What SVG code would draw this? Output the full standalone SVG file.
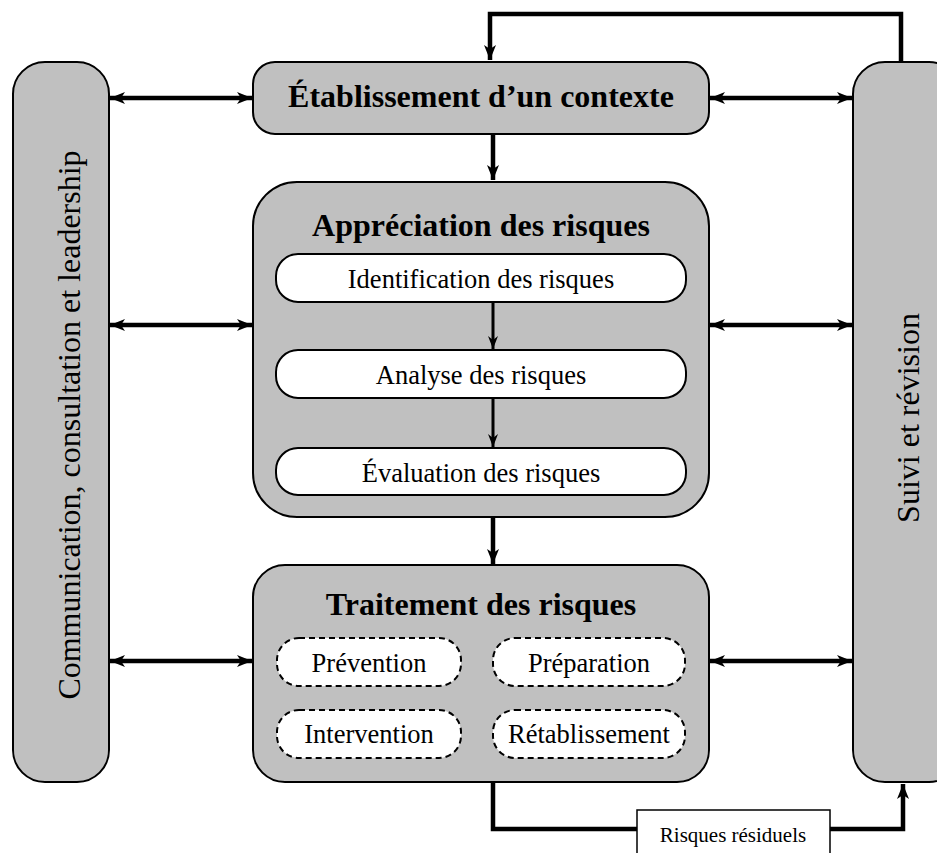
<svg xmlns="http://www.w3.org/2000/svg" width="937" height="853" viewBox="0 0 937 853">
  <defs>
    <marker id="head" markerUnits="userSpaceOnUse" markerWidth="20" markerHeight="16" viewBox="-16 -8 18 16" refX="0" refY="0" orient="auto-start-reverse">
      <path d="M0,0 L-15,-6 L-11,0 L-15,6 Z" fill="#000"/>
    </marker>
    <marker id="headSmall" markerUnits="userSpaceOnUse" markerWidth="16" markerHeight="14" viewBox="-14 -7 16 14" refX="0" refY="0" orient="auto">
      <path d="M0,0 L-13,-5 L-9,0 L-13,5 Z" fill="#000"/>
    </marker>
  </defs>
  <style>
    .box { fill: #c0c0c0; stroke: #000; stroke-width: 2; }
    .inner { fill: #fff; stroke: #000; stroke-width: 2; }
    .dash { fill: #fff; stroke: #000; stroke-width: 2; stroke-dasharray: 6 4; }
    .title { font-family: "Liberation Serif", "Times New Roman", serif; font-weight: bold; font-size: 32px; text-anchor: middle; fill: #000; }
    .label { font-family: "Liberation Serif", "Times New Roman", serif; font-size: 26.5px; text-anchor: middle; fill: #000; }
    .side { font-family: "Liberation Serif", "Times New Roman", serif; font-size: 32px; text-anchor: middle; fill: #000; }
    .small { font-family: "Liberation Serif", "Times New Roman", serif; font-size: 21px; text-anchor: middle; fill: #000; }
    .link { fill: none; stroke: #000; stroke-width: 4.5; }
    .thin { fill: none; stroke: #000; stroke-width: 3; }
  </style>

  <rect width="937" height="853" fill="#fff"/>

  <g id="communication">
    <rect class="box" x="13" y="62" width="96" height="720" rx="32" ry="32"/>
    <text class="side" transform="translate(80,425) rotate(-90)">Communication, consultation et leadership</text>
  </g>

  <g id="suivi">
    <rect class="box" x="853" y="62" width="108" height="720" rx="32" ry="32"/>
    <text class="side" transform="translate(919,418) rotate(-90)">Suivi et révision</text>
  </g>

  <g id="contexte">
    <rect class="box" x="253" y="62" width="456" height="72" rx="22" ry="22"/>
    <text class="title" x="481" y="107">Établissement d’un contexte</text>
  </g>

  <g id="appreciation">
    <rect class="box" x="253" y="182" width="456" height="335" rx="44" ry="44"/>
    <text class="title" x="481" y="236">Appréciation des risques</text>
  </g>

  <g id="identification">
    <rect class="inner" x="276" y="254" width="410" height="48" rx="22" ry="22"/>
    <text class="label" x="481" y="288">Identification des risques</text>
  </g>

  <g id="analyse">
    <rect class="inner" x="276" y="350" width="410" height="48" rx="22" ry="22"/>
    <text class="label" x="481" y="384">Analyse des risques</text>
  </g>

  <g id="evaluation">
    <rect class="inner" x="276" y="448" width="410" height="47" rx="22" ry="22"/>
    <text class="label" x="481" y="482">Évaluation des risques</text>
  </g>

  <g id="traitement">
    <rect class="box" x="253" y="565" width="456" height="217" rx="32" ry="32"/>
    <text class="title" x="481" y="615">Traitement des risques</text>
  </g>

  <g id="prevention">
    <rect class="dash" x="277" y="638" width="184" height="48" rx="22" ry="22"/>
    <text class="label" x="369" y="672">Prévention</text>
  </g>

  <g id="preparation">
    <rect class="dash" x="493" y="638" width="192" height="48" rx="22" ry="22"/>
    <text class="label" x="589" y="672">Préparation</text>
  </g>

  <g id="intervention">
    <rect class="dash" x="277" y="710" width="184" height="48" rx="22" ry="22"/>
    <text class="label" x="369" y="743">Intervention</text>
  </g>

  <g id="retablissement">
    <rect class="dash" x="493" y="710" width="192" height="48" rx="22" ry="22"/>
    <text class="label" x="589" y="743">Rétablissement</text>
  </g>

  <!-- connectors, drawn over the boxes so inner links stay visible -->
  <g id="connectors">
    <!-- feedback from monitoring back to context -->
    <path class="link" d="M901,62 V14 H490 V60" marker-end="url(#head)"/>
    <!-- residual risks to monitoring -->
    <path class="link" d="M493,783 V829 H903 V784" marker-end="url(#head)"/>
    <!-- main flow -->
    <path class="link" d="M493,135 V180" marker-end="url(#head)"/>
    <path class="link" d="M493,518 V564" marker-end="url(#head)"/>
    <path class="thin" d="M493,303 V349" marker-end="url(#headSmall)"/>
    <path class="thin" d="M493,399 V447" marker-end="url(#headSmall)"/>
    <!-- side exchanges -->
    <path class="link" d="M110,98 H252" marker-start="url(#head)" marker-end="url(#head)"/>
    <path class="link" d="M710,98 H852" marker-start="url(#head)" marker-end="url(#head)"/>
    <path class="link" d="M110,325 H252" marker-start="url(#head)" marker-end="url(#head)"/>
    <path class="link" d="M710,325 H852" marker-start="url(#head)" marker-end="url(#head)"/>
    <path class="link" d="M110,661 H252" marker-start="url(#head)" marker-end="url(#head)"/>
    <path class="link" d="M710,661 H852" marker-start="url(#head)" marker-end="url(#head)"/>
  </g>

  <g id="residuels">
    <rect x="637" y="810" width="193" height="50" fill="#fff" stroke="#000" stroke-width="1.5"/>
    <text class="small" x="733" y="842">Risques résiduels</text>
  </g>
</svg>
